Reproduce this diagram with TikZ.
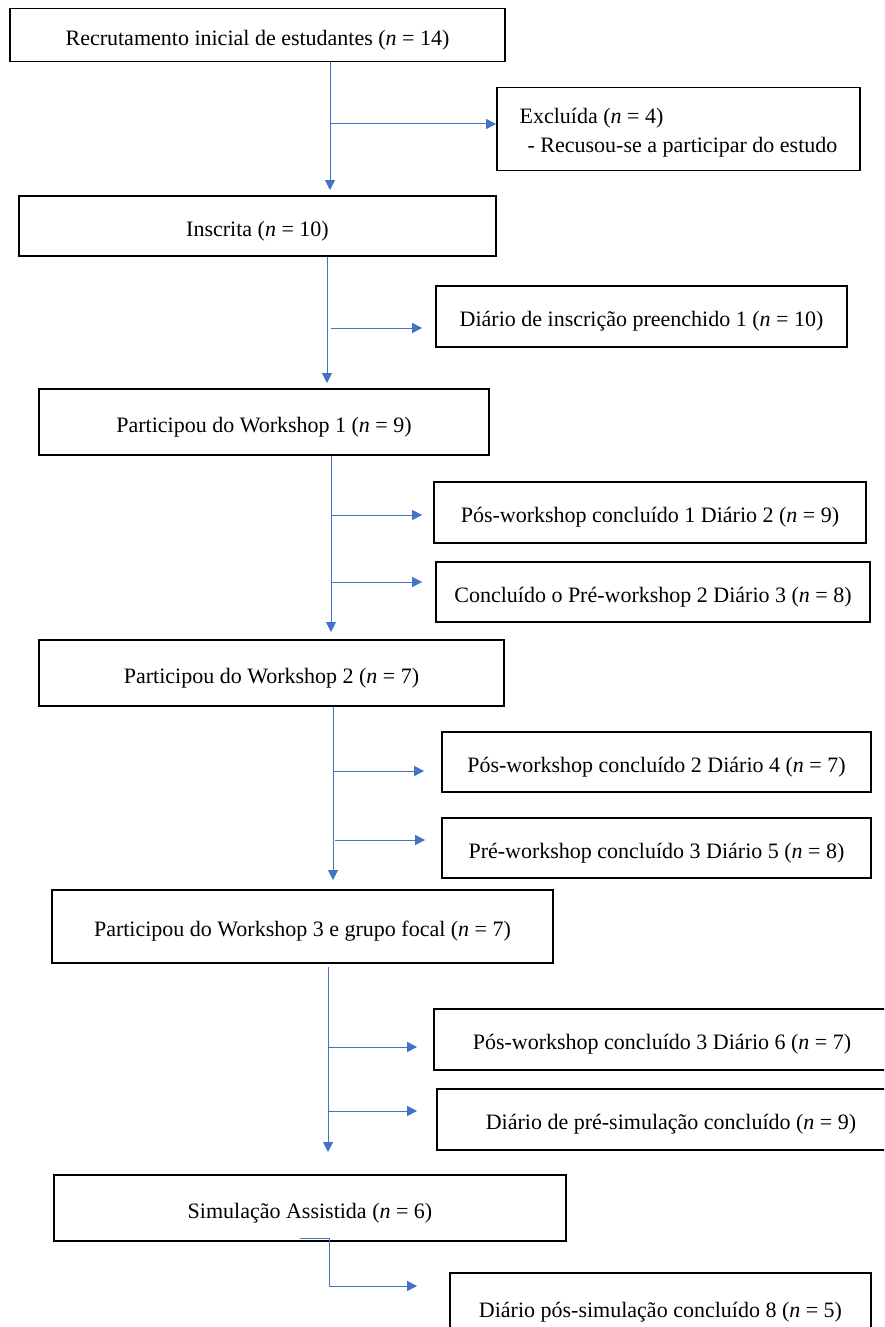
\documentclass[tikz,border=0pt]{standalone}
\usepackage{fontspec}
\setmainfont{Liberation Serif}
\usetikzlibrary{arrows.meta}
\definecolor{arrowblue}{HTML}{4472C4}
\begin{document}
\begin{tikzpicture}[x=1pt,y=-1pt]
\tikzset{
  box/.style={draw=black, line width=1.8pt, rectangle, inner sep=0pt,
    font=\fontsize{22}{29}\selectfont},
  oneline/.style={box, text height=23.5pt, text depth=3pt},
  flow/.style={draw=arrowblue, line width=1pt, -{Triangle[length=10pt,width=10pt]}}
}
\useasboundingbox (0,0) rectangle (884,1327);
\clip (0,0) rectangle (884,1327);
\fill[white] (0,0) rectangle (884,1327);
% boxes
\node[oneline, minimum width=495pt, minimum height=53pt] (b1) at (257.5,35) {Recrutamento inicial de estudantes (\textit{n} = 14)};
\node[box, minimum width=363pt, minimum height=83pt] (ex) at (678.5,129) {\raisebox{-8.3pt}[0pt][0pt]{\begin{tabular}{@{}l@{}}Excluída (\textit{n} = 4)\\\hspace*{8pt}- Recusou-se a participar do estudo\end{tabular}}};
\node[oneline, minimum width=477pt, minimum height=60pt] (ins) at (257.5,226) {Inscrita (\textit{n} = 10)};
\node[oneline, minimum width=411pt, minimum height=61pt] (d1) at (641.5,316.5) {Diário de inscrição preenchido 1 (\textit{n} = 10)};
\node[oneline, minimum width=450pt, minimum height=66pt] (ws1) at (264,422) {Participou do Workshop 1 (\textit{n} = 9)};
\node[oneline, minimum width=432pt, minimum height=61pt] (p1) at (650,512.5) {Pós-workshop concluído 1 Diário 2 (\textit{n} = 9)};
\node[oneline, minimum width=434pt, minimum height=60pt] (c2) at (653,592) {Concluído o Pré-workshop 2 Diário 3 (\textit{n} = 8)};
\node[oneline, minimum width=465pt, minimum height=66pt] (ws2) at (271.5,673) {Participou do Workshop 2 (\textit{n} = 7)};
\node[oneline, minimum width=429pt, minimum height=60pt] (p2) at (656.5,762) {Pós-workshop concluído 2 Diário 4 (\textit{n} = 7)};
\node[oneline, minimum width=429pt, minimum height=60pt] (pr3) at (656.5,848) {Pré-workshop concluído 3 Diário 5 (\textit{n} = 8)};
\node[oneline, minimum width=501pt, minimum height=73pt] (ws3) at (302.5,926.5) {Participou do Workshop 3 e grupo focal (\textit{n} = 7)};
\node[oneline, minimum width=456pt, minimum height=61pt] (p3) at (662,1039.5) {Pós-workshop concluído 3 Diário 6 (\textit{n} = 7)};
\node[oneline, minimum width=468pt, minimum height=61pt] (ps) at (671,1119.5) {Diário de pré-simulação concluído (\textit{n} = 9)};
\node[oneline, minimum width=512pt, minimum height=66pt] (sim) at (310,1208) {Simulação Assistida (\textit{n} = 6)};
\node[oneline, minimum width=421pt, minimum height=68pt] (dps) at (660.5,1307) {Diário pós-simulação concluído 8 (\textit{n} = 5)};
% connector coordinates
\coordinate (t1) at (330,190);
\coordinate (j1) at (330,124);
\coordinate (t2) at (327,383);
\coordinate (j2) at (331,328);
\coordinate (t3) at (331,632);
\coordinate (j3a) at (331,515);
\coordinate (j3b) at (331,582);
\coordinate (t4) at (333,880);
\coordinate (j4a) at (333,771);
\coordinate (j4b) at (335,840);
\coordinate (s5) at (328,967);
\coordinate (t5) at (328,1152);
\coordinate (j5a) at (328,1047);
\coordinate (j5b) at (328,1111);
\coordinate (f1) at (300,1238);
\coordinate (f2) at (329,1286);
% connectors
\draw[flow] (b1.south -| t1) -- (t1);
\draw[flow] (j1) -- (j1 -| ex.west);
\draw[flow] (ins.south -| t2) -- (t2);
\draw[flow] (j2) -- ([xshift=-13pt]j2 -| d1.west);
\draw[flow] (ws1.south -| t3) -- (t3);
\draw[flow] (j3a) -- ([xshift=-11pt]j3a -| p1.west);
\draw[flow] (j3b) -- ([xshift=-13pt]j3b -| c2.west);
\draw[flow] (ws2.south -| t4) -- (t4);
\draw[flow] (j4a) -- ([xshift=-17pt]j4a -| p2.west);
\draw[flow] (j4b) -- ([xshift=-16pt]j4b -| pr3.west);
\draw[flow] (s5) -- (t5);
\draw[flow] (j5a) -- ([xshift=-16pt]j5a -| p3.west);
\draw[flow] (j5b) -- ([xshift=-19pt]j5b -| ps.west);
\draw[flow] (f1) -- (f1 -| f2) -- (f2) -- ([xshift=-32pt]f2 -| dps.west);
\end{tikzpicture}
\end{document}
